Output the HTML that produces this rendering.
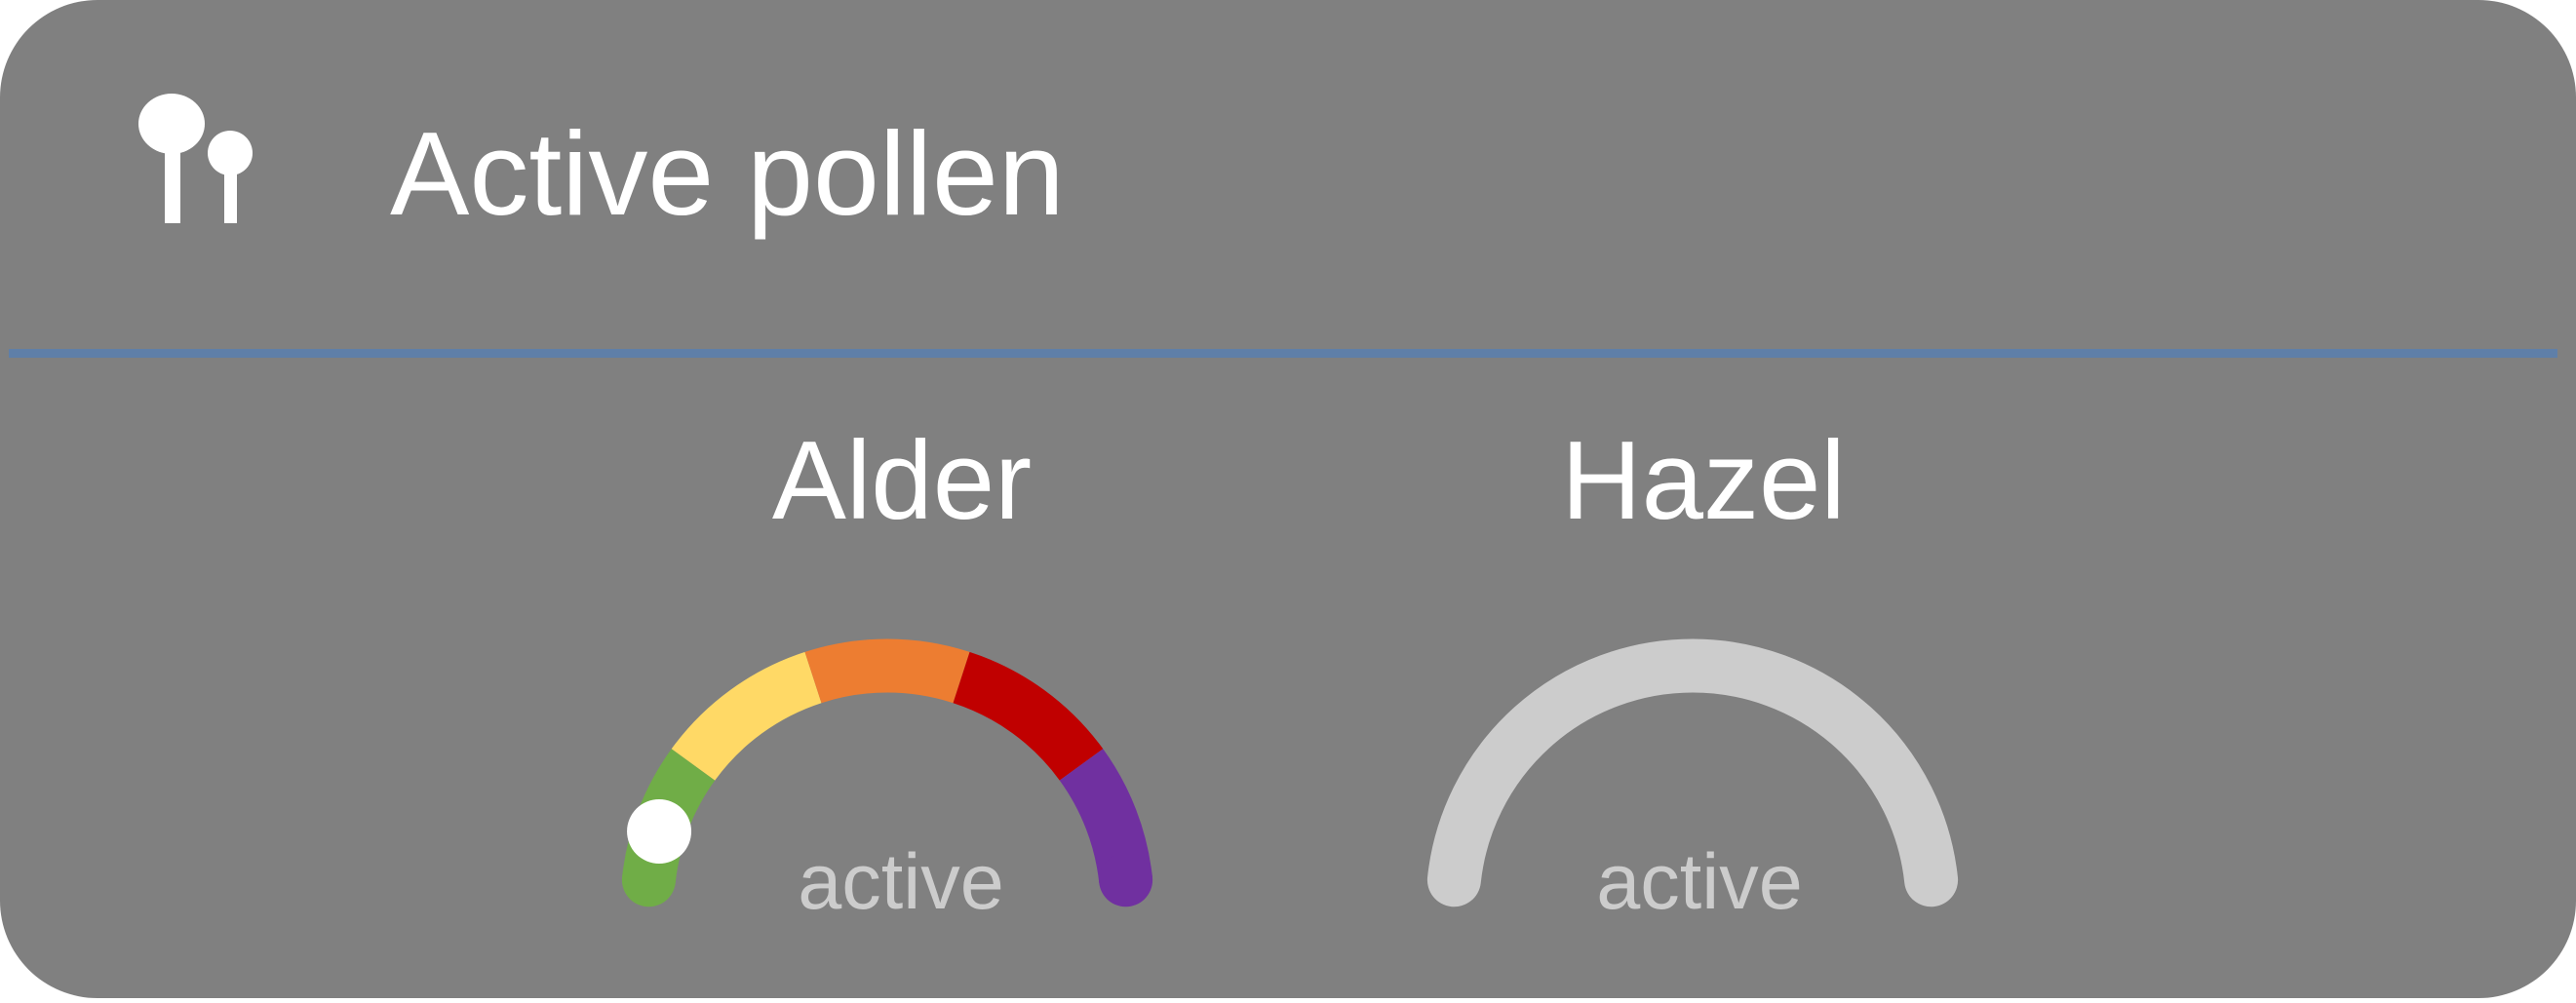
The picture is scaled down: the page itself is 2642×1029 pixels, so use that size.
<!DOCTYPE html>
<html><head><meta charset="utf-8"><style>
html,body{margin:0;padding:0;background:#fff;}
body{width:2642px;height:1024px;overflow:hidden;font-family:"Liberation Sans",sans-serif;}
</style></head><body>
<svg width="2642" height="1024" viewBox="0 0 2642 1024">
<rect x="0" y="0" width="2642" height="1024" rx="100" fill="#808080"/>
<g fill="#fff">
<ellipse cx="176" cy="127" rx="34" ry="31"/><rect x="169" y="150" width="16" height="79"/>
<ellipse cx="236" cy="157" rx="23" ry="23"/><rect x="230" y="170" width="13" height="59"/>
</g>
<text x="400" y="220" font-size="122" fill="#fff">Active pollen</text>
<rect x="9" y="358" width="2614" height="9" fill="#5f7fa8"/>
<g id="g1"></g>
<g id="g2"></g>
<text x="925" y="532" font-size="114" fill="#fff" text-anchor="middle">Alder</text>
<text x="1747" y="532" font-size="114" fill="#fff" text-anchor="middle">Hazel</text>
<text x="924" y="932" font-size="81" fill="#cccccc" text-anchor="middle">active</text>
<text x="1743" y="932" font-size="81" fill="#cccccc" text-anchor="middle">active</text>
</svg>
<script>
const levelBounds = [0, 1, 2, 3, 4, 5];
const levelColors = ["#70ad47", "#ffd966", "#ed7d31", "#c00000", "#7030a0"];
const alderValue = 0.5;
const hazelValue = null;
const NS = "http://www.w3.org/2000/svg";
const R = 246, W = 55, CY = 929, SMIN = 0.17, SMAX = 4.83;
function ang(v){ return Math.PI * (1 - v / 5); }
function pt(cx, v){ const a = ang(v); return [cx + R*Math.cos(a), CY - R*Math.sin(a)]; }
function arcPath(cx, v0, v1){
  const p0 = pt(cx, v0), p1 = pt(cx, v1);
  const large = (ang(v0) - ang(v1)) > Math.PI ? 1 : 0;
  return `M${p0[0]},${p0[1]} A${R},${R} 0 ${large} 1 ${p1[0]},${p1[1]}`;
}
function mk(tag, attrs, parent){ const e = document.createElementNS(NS, tag); for (const k in attrs) e.setAttribute(k, attrs[k]); parent.appendChild(e); return e; }
function gauge(gid, cx, colored, value){
  const g = document.getElementById(gid);
  if (colored){
    for (let i = 0; i < levelColors.length; i++){
      const a = Math.max(levelBounds[i], SMIN), b = Math.min(levelBounds[i+1], SMAX);
      const p = mk("path", {d: arcPath(cx, a, b), stroke: levelColors[i], "stroke-width": W, fill: "none"}, g);
      
      
    }
    const e0 = pt(cx, SMIN), e1 = pt(cx, SMAX);
    const c0 = mk("circle", {cx: e0[0], cy: e0[1], r: W/2, fill: levelColors[0]}, g);
    
    
    const c1 = mk("circle", {cx: e1[0], cy: e1[1], r: W/2, fill: levelColors[levelColors.length-1]}, g);
    
    
  } else {
    const p = mk("path", {d: arcPath(cx, SMIN, SMAX), stroke: "#cccccc", "stroke-width": W, fill: "none", "stroke-linecap": "round"}, g);
    
    
  }
  if (value !== null){
    const k = pt(cx, value);
    const n = mk("circle", {cx: k[0], cy: k[1], r: 33, fill: "#fff"}, g);
    
    
  }
}
gauge("g1", 910, true, alderValue);
gauge("g2", 1736, false, hazelValue);
</script>
</body></html>
